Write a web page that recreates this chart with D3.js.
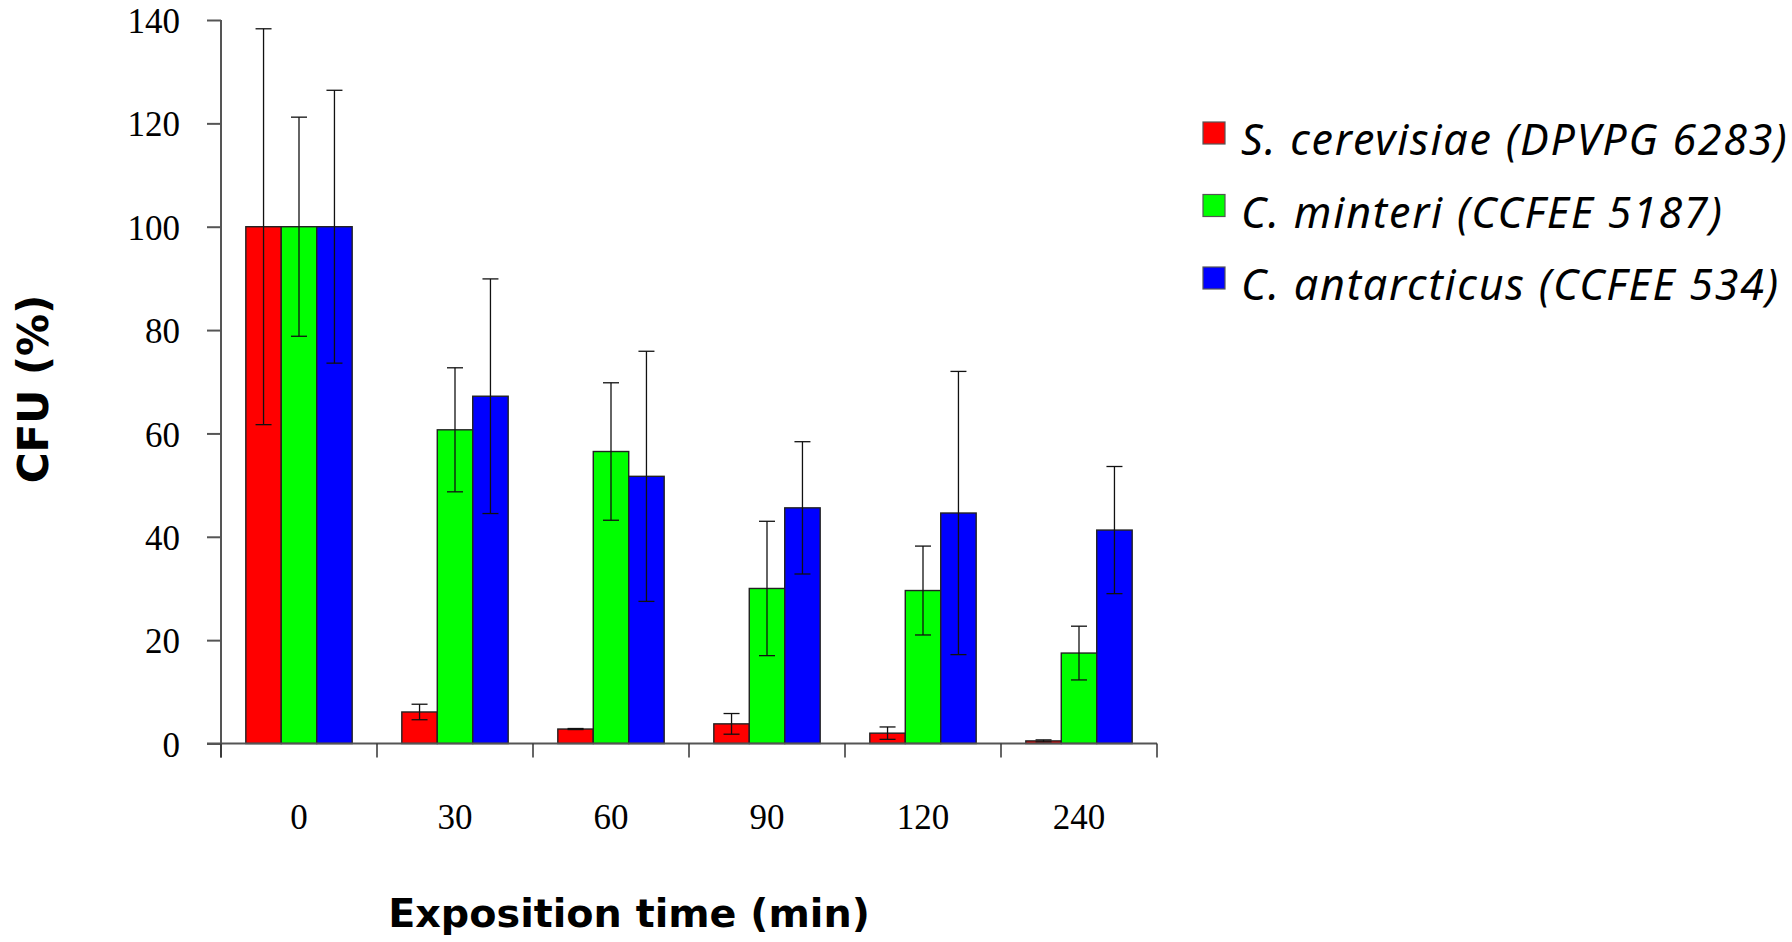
<!DOCTYPE html>
<html>
<head>
  <meta charset="utf-8">
  <script src="https://d3js.org/d3.v7.min.js"></script>
  <style>
    body { margin: 0; background: #fff; }
    .tick-label { font-family: "Liberation Serif", "Times New Roman", serif; font-size: 35px; fill: #000; }
    .axis-title { font-family: "DejaVu Sans", Verdana, sans-serif; font-weight: bold; fill: #000; }
    .legend text { font-family: "Noto Sans", sans-serif; font-style: italic; font-size: 43px; letter-spacing: 1.8px; fill: #000; }
  </style>
</head>
<body>
  <div id="chart"></div>
  <script type="text/javascript">
  // exposition times (min)
  var categories = ["0", "30", "60", "90", "120", "240"];
  var seriesNames = ["S. cerevisiae (DPVPG 6283)", "C. minteri (CCFEE 5187)", "C. antarcticus (CCFEE 534)"];
  var seriesColors = ["#ff0000", "#00ff00", "#0000ff"];

  // CFU (%) per strain
  var cerevisiae = [100, 6.1, 2.8, 3.8, 2.0, 0.5];
  var minteri = [100, 60.7, 56.5, 30.0, 29.6, 17.5];
  var antarcticus = [100, 67.2, 51.7, 45.6, 44.6, 41.3];

  // standard deviations
  var cerevisiaeErr = [38.3, 1.5, 0.1, 2.0, 1.2, 0.2];
  var minteriErr = [21.2, 12.0, 13.3, 13.0, 8.6, 5.2];
  var antarcticusErr = [26.4, 22.7, 24.2, 12.8, 27.4, 12.3];

  var yTicks = [0, 20, 40, 60, 80, 100, 120, 140];

  var values = [cerevisiae, minteri, antarcticus];
  var errors = [cerevisiaeErr, minteriErr, antarcticusErr];

  var width = 1792, height = 942;
  var plotLeft = 221, plotRight = 1157, plotTop = 20, plotBottom = 743.5;

  var svg = d3.select("#chart").append("svg")
      .attr("width", width)
      .attr("height", height);

  var x0 = d3.scaleBand()
      .domain(categories)
      .range([plotLeft, plotRight]);

  var x1 = d3.scaleBand()
      .domain(d3.range(seriesNames.length))
      .range([0, x0.bandwidth()])
      .paddingOuter(0.7);

  var y = d3.scaleLinear()
      .domain([0, 140])
      .range([plotBottom, plotTop]);

  // data rows
  var rows = [];
  categories.forEach(function(c, i) {
    values.forEach(function(s, j) {
      rows.push({ cat: c, series: j, value: s[i], err: errors[j][i] });
    });
  });

  // bars
  svg.append("g").selectAll("rect")
      .data(rows)
    .enter().append("rect")
      .attr("x", function(d) { return x0(d.cat) + x1(d.series); })
      .attr("y", function(d) { return y(d.value); })
      .attr("width", x1.bandwidth())
      .attr("height", function(d) { return y(0) - y(d.value); })
      .style("fill", function(d) { return seriesColors[d.series]; })
      .style("stroke", "#222")
      .style("stroke-width", 1.4);

  // error bars
  var capHalf = 8;
  var eb = svg.append("g").selectAll("g")
      .data(rows)
    .enter().append("g")
      .attr("transform", function(d) {
        return "translate(" + (x0(d.cat) + x1(d.series) + x1.bandwidth() / 2) + ",0)";
      });

  eb.append("line")
      .attr("y1", function(d) { return y(d.value + d.err); })
      .attr("y2", function(d) { return y(Math.max(0, d.value - d.err)); })
      .style("stroke", "#111").style("stroke-width", 1.3);
  eb.append("line")
      .attr("x1", -capHalf).attr("x2", capHalf)
      .attr("y1", function(d) { return y(d.value + d.err); })
      .attr("y2", function(d) { return y(d.value + d.err); })
      .style("stroke", "#111").style("stroke-width", 1.3);
  eb.append("line")
      .attr("x1", -capHalf).attr("x2", capHalf)
      .attr("y1", function(d) { return y(Math.max(0, d.value - d.err)); })
      .attr("y2", function(d) { return y(Math.max(0, d.value - d.err)); })
      .style("stroke", "#111").style("stroke-width", 1.3);

  // y axis
  var yAxis = svg.append("g")
      .attr("transform", "translate(" + plotLeft + ",0)")
      .call(d3.axisLeft(y).tickValues(yTicks).tickSize(14).tickPadding(27).tickSizeOuter(0));
  yAxis.attr("font-size", null).attr("font-family", null);
  yAxis.select(".domain").attr("d", "M0," + plotTop + "V" + (plotBottom + 14));
  yAxis.selectAll("path, line").style("stroke", "#555").style("stroke-width", 2);
  yAxis.selectAll("text").attr("class", "tick-label").attr("dy", "0.36em");

  // x axis: ticks at category boundaries, labels at centres
  var xAxis = svg.append("g")
      .attr("transform", "translate(0," + plotBottom + ")");
  xAxis.append("line")
      .attr("x1", plotLeft - 14).attr("x2", plotRight)
      .style("stroke", "#555").style("stroke-width", 2);
  xAxis.selectAll(".bound")
      .data(categories.concat(["end"]))
    .enter().append("line")
      .attr("class", "bound")
      .attr("x1", function(d, i) { return plotLeft + i * x0.bandwidth(); })
      .attr("x2", function(d, i) { return plotLeft + i * x0.bandwidth(); })
      .attr("y1", 0).attr("y2", 14)
      .style("stroke", "#333").style("stroke-width", 1.5);
  xAxis.selectAll(".tick-label")
      .data(categories)
    .enter().append("text")
      .attr("class", "tick-label")
      .attr("x", function(d) { return x0(d) + x0.bandwidth() / 2; })
      .attr("y", 85)
      .attr("text-anchor", "middle")
      .text(function(d) { return d; });

  // axis titles
  svg.append("text")
      .attr("class", "axis-title")
      .attr("x", 629).attr("y", 927)
      .attr("text-anchor", "middle")
      .style("font-size", "39.7px")
      .text("Exposition time (min)");

  svg.append("text")
      .attr("class", "axis-title")
      .attr("transform", "translate(48,389) rotate(-90)")
      .attr("text-anchor", "middle")
      .style("font-size", "42px")
      .text("CFU (%)");

  // legend
  var legend = svg.append("g").attr("class", "legend")
      .attr("transform", "translate(1203,122)");
  var li = legend.selectAll("g")
      .data(seriesNames)
    .enter().append("g")
      .attr("transform", function(d, i) { return "translate(0," + i * 72.5 + ")"; });
  li.append("rect")
      .attr("width", 22).attr("height", 22)
      .style("fill", function(d, i) { return seriesColors[i]; })
      .style("stroke", "#555").style("stroke-width", 1.2);
  li.append("text")
      .attr("x", 38).attr("y", 33)
      .text(function(d) { return d; });
  </script>
</body>
</html>
